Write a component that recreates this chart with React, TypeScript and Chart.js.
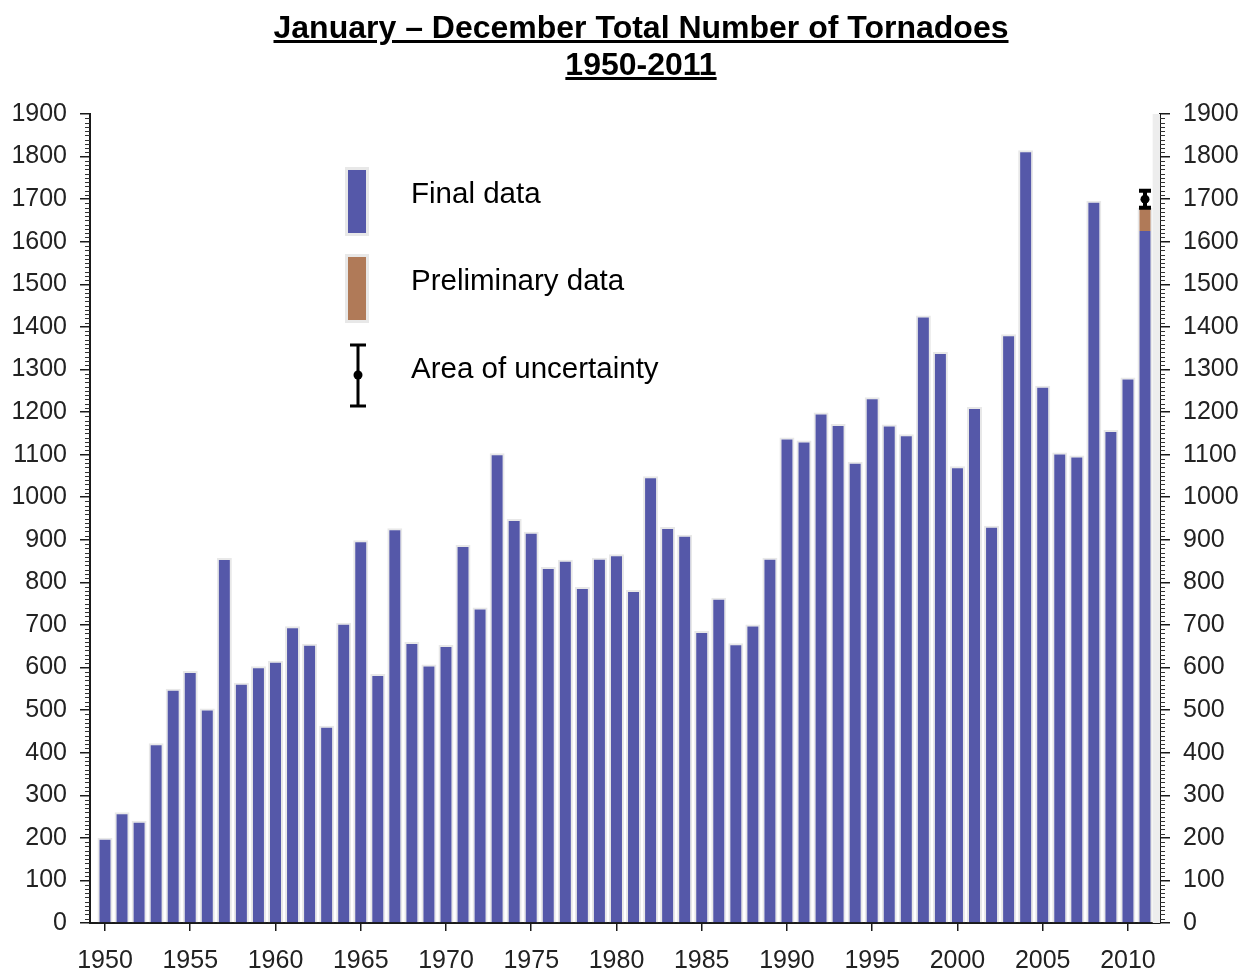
import React, { useEffect, useRef } from "react";
import { Chart, registerables } from "chart.js";
Chart.register(...registerables);

const titleLines = ["January \u2013 December Total Number of Tornadoes", "1950-2011"];

const years = [
  1950, 1951, 1952, 1953, 1954, 1955, 1956, 1957, 1958, 1959,
  1960, 1961, 1962, 1963, 1964, 1965, 1966, 1967, 1968, 1969,
  1970, 1971, 1972, 1973, 1974, 1975, 1976, 1977, 1978, 1979,
  1980, 1981, 1982, 1983, 1984, 1985, 1986, 1987, 1988, 1989,
  1990, 1991, 1992, 1993, 1994, 1995, 1996, 1997, 1998, 1999,
  2000, 2001, 2002, 2003, 2004, 2005, 2006, 2007, 2008, 2009,
  2010, 2011,
];

const finalCounts = [
  200, 260, 240, 422, 550, 592, 504, 857, 564, 603,
  616, 697, 656, 463, 705, 899, 585, 927, 660, 607,
  653, 888, 741, 1103, 949, 919, 836, 853, 789, 858,
  866, 782, 1049, 930, 912, 686, 764, 657, 701, 858,
  1140, 1133, 1199, 1172, 1083, 1235, 1171, 1148, 1427, 1341,
  1073, 1212, 933, 1383, 1815, 1262, 1105, 1098, 1696, 1158,
  1281, 1625,
];

const prelimYears = [2011];
const prelimLow = [1625];
const prelimHigh = [1680];

const uncertaintyYears = [2011];
const uncertaintyLow = [1680];
const uncertaintyHigh = [1720];
const uncertaintyMid = [1700];

const legendLabels = ["Final data", "Preliminary data", "Area of uncertainty"];

const Y_MIN = 0;
const Y_MAX = 1900;
const Y_STEP = 100;
const X_MIN = 1949.12;
const X_MAX = 2011.88;
const X_STEP = 5;

const BLUE = "#5558A9";
const BROWN = "#B07A58";
const HALO = "#e8e8e8";
const AXIS = "#1a1a1a";
const TICK_TEXT = "#222222";
const FONT = "'Liberation Sans', Arial, Helvetica, sans-serif";

const decorPlugin = {
  id: "decor",
  beforeDatasetsDraw(chart: any) {
    const { ctx, chartArea } = chart;
    const xs = chart.scales.x;
    const lastYear = years[years.length - 1];
    const x0 = xs.getPixelForValue(lastYear + 0.45);
    ctx.save();
    ctx.fillStyle = "#ededed";
    ctx.fillRect(x0, chartArea.top, chartArea.right - x0, chartArea.bottom - chartArea.top);
    ctx.restore();
  },
  afterDatasetsDraw(chart: any) {
    const { ctx } = chart;
    const xs = chart.scales.x;
    const ys = chart.scales.y;
    ctx.save();
    ctx.strokeStyle = "#000";
    ctx.fillStyle = "#000";
    for (let i = 0; i < uncertaintyYears.length; i++) {
      const px = xs.getPixelForValue(uncertaintyYears[i]);
      const lo = ys.getPixelForValue(uncertaintyLow[i]);
      const hi = ys.getPixelForValue(uncertaintyHigh[i]);
      const mid = ys.getPixelForValue(uncertaintyMid[i]);
      ctx.lineWidth = 4;
      ctx.beginPath();
      ctx.moveTo(px, lo);
      ctx.lineTo(px, hi);
      ctx.stroke();
      ctx.beginPath();
      ctx.moveTo(px - 6, lo);
      ctx.lineTo(px + 6, lo);
      ctx.moveTo(px - 6, hi);
      ctx.lineTo(px + 6, hi);
      ctx.stroke();
      ctx.beginPath();
      ctx.arc(px, mid, 4.5, 0, Math.PI * 2);
      ctx.fill();
    }
    ctx.restore();
  },
  afterDraw(chart: any) {
    const { ctx, chartArea } = chart;
    const ys = chart.scales.y;
    // minor ticks on both vertical axes
    ctx.save();
    ctx.strokeStyle = "#333";
    ctx.lineWidth = 1;
    ctx.beginPath();
    for (let v = Y_MIN + 10; v < Y_MAX; v += 10) {
      if (v % Y_STEP === 0) continue;
      const py = Math.round(ys.getPixelForValue(v)) + 0.5;
      ctx.moveTo(chartArea.left - 5, py);
      ctx.lineTo(chartArea.left, py);
      ctx.moveTo(chartArea.right, py);
      ctx.lineTo(chartArea.right + 5, py);
    }
    ctx.stroke();

    // legend
    const lx = 348;
    const lw = 18;
    const drawSwatch = (y: number, h: number, color: string) => {
      ctx.fillStyle = HALO;
      ctx.fillRect(lx - 3, y - 3, lw + 6, h + 6);
      ctx.fillStyle = color;
      ctx.fillRect(lx, y, lw, h);
    };
    drawSwatch(170, 63, BLUE);
    drawSwatch(257, 63, BROWN);
    const cx = 358;
    ctx.strokeStyle = "#000";
    ctx.fillStyle = "#000";
    ctx.lineWidth = 3;
    ctx.beginPath();
    ctx.moveTo(cx, 344);
    ctx.lineTo(cx, 407);
    ctx.moveTo(cx - 8, 345);
    ctx.lineTo(cx + 8, 345);
    ctx.moveTo(cx - 8, 406);
    ctx.lineTo(cx + 8, 406);
    ctx.stroke();
    ctx.beginPath();
    ctx.arc(cx, 375, 4.5, 0, Math.PI * 2);
    ctx.fill();

    ctx.font = `29.5px ${FONT}`;
    ctx.textAlign = "left";
    ctx.textBaseline = "middle";
    ctx.fillStyle = "#000";
    ctx.fillText(legendLabels[0], 411, 195);
    ctx.fillText(legendLabels[1], 411, 282);
    ctx.fillText(legendLabels[2], 411, 370);
    ctx.restore();
  },
};

export default function App() {
  const canvasRef = useRef<HTMLCanvasElement | null>(null);

  useEffect(() => {
    if (!canvasRef.current) return;
    const lastYear = years[years.length - 1];
    const finalData = years.map((y, i) => ({ x: y, y: finalCounts[i] }));
    const prelimData = prelimYears.map((y, i) => ({ x: y, y: [prelimLow[i], prelimHigh[i]] }));

    const yAxisCommon = {
      min: Y_MIN,
      max: Y_MAX,
      border: { display: true, color: AXIS, width: 2 },
      grid: { drawOnChartArea: false, drawTicks: true, tickLength: 10, color: AXIS, lineWidth: 1.5 },
      ticks: {
        stepSize: Y_STEP,
        color: TICK_TEXT,
        font: { family: FONT, size: 25 },
        padding: 13,
        callback: (v: any) => String(v),
      },
    };

    const chart = new Chart(canvasRef.current, {
      type: "bar",
      data: {
        datasets: [
          {
            label: legendLabels[0],
            data: finalData as any,
            backgroundColor: BLUE,
            borderColor: HALO,
            borderWidth: (c: any) =>
              c.raw && c.raw.x === lastYear ? { left: 2, right: 2, top: 0, bottom: 0 } : 2,
            borderSkipped: "start",
            grouped: false,
            barPercentage: 0.88,
            categoryPercentage: 1,
            yAxisID: "y",
          } as any,
          {
            label: legendLabels[1],
            data: prelimData as any,
            backgroundColor: BROWN,
            borderColor: HALO,
            borderWidth: { left: 2, right: 2, top: 0, bottom: 0 },
            borderSkipped: false,
            grouped: false,
            barPercentage: 0.88,
            categoryPercentage: 1,
            yAxisID: "y",
          } as any,
        ],
      },
      options: {
        animation: false,
        responsive: true,
        maintainAspectRatio: false,
        layout: { padding: { top: 114, left: 0, right: 0, bottom: 0 } },
        plugins: {
          legend: { display: false },
          title: { display: false },
          tooltip: { enabled: false },
        },
        scales: {
          x: {
            type: "linear",
            min: X_MIN,
            max: X_MAX,
            offset: false,
            border: { display: true, color: AXIS, width: 2 },
            grid: {
              offset: false,
              drawOnChartArea: false,
              drawTicks: true,
              tickLength: 8,
              color: AXIS,
              lineWidth: 1.5,
            },
            ticks: {
              stepSize: X_STEP,
              includeBounds: false,
              autoSkip: false,
              maxRotation: 0,
              color: TICK_TEXT,
              font: { family: FONT, size: 25 },
              padding: 15,
              callback: (v: any) => String(v),
            },
            afterFit: (s: any) => {
              s.height = 51;
            },
          } as any,
          y: {
            ...yAxisCommon,
            position: "left",
            afterFit: (s: any) => {
              s.width = 90;
            },
          } as any,
          y2: {
            ...yAxisCommon,
            position: "right",
            afterFit: (s: any) => {
              s.width = 88;
            },
          } as any,
        },
      },
      plugins: [decorPlugin],
    });
    return () => chart.destroy();
  }, []);

  return (
    <div
      style={{
        position: "fixed",
        left: 0,
        top: 0,
        width: 1248,
        height: 974,
        overflow: "hidden",
        background: "#fff",
      }}
    >
      <canvas ref={canvasRef} style={{ position: "absolute", left: 0, top: 0 }} />
      <div
        style={{
          position: "absolute",
          left: 0,
          top: 9,
          width: 1282,
          textAlign: "center",
          fontFamily: FONT,
          fontWeight: "bold",
          fontSize: 32,
          lineHeight: "37px",
          color: "#000",
          textDecoration: "underline",
          pointerEvents: "none",
        }}
      >
        {titleLines.map((t) => (
          <div key={t}>{t}</div>
        ))}
      </div>
    </div>
  );
}
